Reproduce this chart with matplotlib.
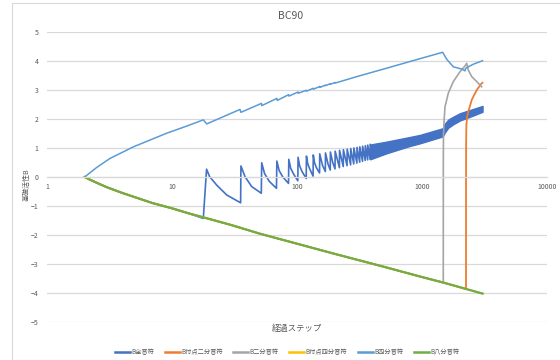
import matplotlib
matplotlib.use("Agg")
import matplotlib.pyplot as plt
from matplotlib.patches import Rectangle
from matplotlib.ticker import FixedLocator, FixedFormatter

plt.rcParams['font.family'] = ['Noto Sans CJK JP', 'DejaVu Sans']

# --- data -------------------------------------------------------------
series_names = ["B全音符", "B付点二分音符", "B二分音符", "B付点四分音符", "B四分音符", "B八分音符"]
series_colors = ["#4472C4", "#ED7D31", "#A5A5A5", "#FFC000", "#5B9BD5", "#70AD47"]

x_ticks = [1, 10, 100, 1000, 10000]
x_tick_labels = ["1", "10", "100", "1000", "10000"]
y_ticks = [-5, -4, -3, -2, -1, 0, 1, 2, 3, 4, 5]

# single presentation, plain decay (八分音符 / 付点四分音符)
decay_t = [2, 2.2, 2.5, 3, 4, 5, 7, 10, 14, 20, 30, 50, 100, 200, 500, 1000, 1480, 2249, 3050]
decay_b = [0, -0.09, -0.2, -0.35, -0.55, -0.69, -0.9, -1.08, -1.27, -1.45, -1.66,
           -1.95, -2.3, -2.65, -3.1, -3.45, -3.64, -3.86, -4.02]

# 全音符: early decay, then visible sawtooth teeth
whole_t = [2, 2.5, 3, 4, 5, 7, 10, 14, 17.8,
           18.9, 20, 22.8, 27.4, 35.4,
           35.6, 38.4, 43.4, 51.8,
           52.2, 55, 60, 68.5,
           69, 72, 77, 85.5,
           86, 89, 94, 101.5,
           102, 105, 110, 118.5,
           119, 122, 127, 134.5,
           135, 138, 143, 151.5,
           152, 160, 168.5,
           169, 177, 184.5,
           185, 193, 201.5,
           202, 218.5, 219, 234.5, 235, 251.5, 252, 268.5, 269, 284.5,
           285, 301.5, 302, 317.5, 318, 334.5, 335, 351.5, 352, 367.5, 368, 384.5, 385]
whole_b = [0, -0.2, -0.35, -0.55, -0.69, -0.9, -1.08, -1.27, -1.43,
           0.27, 0.01, -0.28, -0.62, -0.89,
           0.38, 0.01, -0.33, -0.56,
           0.49, 0.12, -0.15, -0.39,
           0.55, 0.22, 0.0, -0.22,
           0.61, 0.3, 0.1, -0.13,
           0.68, 0.38, 0.18, -0.05,
           0.72, 0.45, 0.26, 0.03,
           0.76, 0.5, 0.32, 0.14,
           0.8, 0.4, 0.19,
           0.83, 0.45, 0.24,
           0.86, 0.5, 0.28,
           0.89, 0.32, 0.92, 0.36, 0.94, 0.39, 0.96, 0.42, 0.98, 0.45,
           1.0, 0.48, 1.02, 0.51, 1.04, 0.54, 1.06, 0.57, 1.08, 0.59, 1.1, 0.61, 1.12]

# 全音符: dense part of the sawtooth, as its upper and lower envelope
whole_band_t = [385, 522, 800, 960, 1464, 1530, 1623, 1780, 2014, 2500, 3050]
whole_band_hi = [1.12, 1.22, 1.38, 1.45, 1.68, 1.85, 1.98, 2.08, 2.2, 2.33, 2.45]
whole_band_lo = [0.61, 0.82, 1.07, 1.16, 1.40, 1.55, 1.70, 1.82, 1.95, 2.1, 2.25]

# 付点二分音符: rise after the first presentation
dotted_half_t = [2249, 2250, 2255, 2265, 2300, 2345, 2500, 2740, 3003, 3050]
dotted_half_b = [-3.86, 0.0, 1.2, 1.8, 2.1, 2.25, 2.66, 3.0, 3.23, 3.25]

# 二分音符: rise after the first presentation
half_t = [1480, 1481, 1485, 1500, 1528, 1623, 1780, 2014, 2208, 2279, 2345, 2500, 2740, 3003]
half_b = [-3.64, 0.5, 1.4, 1.9, 2.42, 2.89, 3.29, 3.63, 3.83, 3.92, 3.69, 3.46, 3.29, 3.11]

# 四分音符
quarter_t = [2, 2.5, 3.19, 4.91, 9.07, 13, 17.8, 18.95, 35, 35.6, 52, 52.2, 69, 69.5,
             85.8, 86.2, 102, 102.5, 118.5, 119, 135, 135.6, 152, 152.5, 169, 169.5,
             185, 185.5, 202, 202.5, 300, 500, 1000, 1464, 1577, 1780, 2087,
             2208, 2230, 2345, 2577, 3050]
quarter_b = [0, 0.33, 0.64, 1.04, 1.51, 1.75, 1.97, 1.83, 2.33, 2.23, 2.54, 2.46, 2.71, 2.64,
             2.84, 2.79, 2.93, 2.89, 2.99, 2.96, 3.06, 3.03, 3.12, 3.09, 3.17, 3.15,
             3.22, 3.20, 3.26, 3.24, 3.46, 3.73, 4.1, 4.30, 4.06, 3.80, 3.72,
             3.66, 3.74, 3.80, 3.89, 4.01]

# --- figure -----------------------------------------------------------
W, H = 560, 360
fig = plt.figure(figsize=(W / 100, H / 100), dpi=100)
fig.patches.append(Rectangle((12 / W, 0), 1.0, 1 - 3 / H, transform=fig.transFigure,
                             fill=False, edgecolor="#D9D9D9", linewidth=0.8))

ax = fig.add_axes([47 / W, 1 - 322 / H, 500 / W, 290 / H])
ax.set_xscale("log")
ax.set_xlim(1, 10000)
ax.set_ylim(-5, 5)

text_color = "#595959"
grid_color = "#D9D9D9"

ax.set_yticks(y_ticks)
ax.yaxis.grid(True, color=grid_color, linewidth=0.9)
ax.set_axisbelow(True)
ax.xaxis.set_major_locator(FixedLocator(x_ticks))
ax.xaxis.set_major_formatter(FixedFormatter(x_tick_labels))
ax.xaxis.set_minor_locator(FixedLocator([]))
ax.tick_params(axis="both", length=0, labelsize=5, labelcolor=text_color)
ax.tick_params(axis="y", pad=6)
ax.tick_params(axis="x", pad=4)
for side in ("left", "right", "top"):
    ax.spines[side].set_visible(False)
ax.spines["bottom"].set_position(("data", 0))
ax.spines["bottom"].set_color(grid_color)
ax.spines["bottom"].set_linewidth(0.9)

c_whole, c_dhalf, c_half, c_dquarter, c_quarter, c_eighth = series_colors

ax.plot(whole_t, whole_b, color=c_whole, lw=1.2, label=series_names[0])
ax.fill_between(whole_band_t, whole_band_lo, whole_band_hi, color=c_whole,
                edgecolor=c_whole, linewidth=1.0)
ax.plot([t for t in decay_t if t <= 2249] + dotted_half_t[1:],
        [b for t, b in zip(decay_t, decay_b) if t <= 2249] + dotted_half_b[1:],
        color=c_dhalf, lw=1.3, label=series_names[1])
ax.plot([t for t in decay_t if t <= 1480] + half_t[1:],
        [b for t, b in zip(decay_t, decay_b) if t <= 1480] + half_b[1:],
        color=c_half, lw=1.2, label=series_names[2])
ax.plot(decay_t, decay_b, color=c_dquarter, lw=1.3, label=series_names[3])
ax.plot(quarter_t, quarter_b, color=c_quarter, lw=1.1, label=series_names[4])
ax.plot(decay_t, decay_b, color=c_eighth, lw=1.6, label=series_names[5])

fig.text(291 / W, 1 - 16 / H, "BC90", ha="center", va="center", fontsize=7.5, color=text_color)
fig.text(297 / W, 1 - 328 / H, "経過ステップ", ha="center", va="center", fontsize=6, color=text_color)
fig.text(27 / W, 1 - 185 / H, "基礎活性B", ha="center", va="center", rotation=90,
         fontsize=5, color=text_color)

handles, labels = ax.get_legend_handles_labels()
leg = fig.legend(handles, labels, loc="center", bbox_to_anchor=(287 / W, 1 - 352 / H),
                 ncol=6, frameon=False, fontsize=4.5, handlelength=2.4, handletextpad=0.2,
                 columnspacing=1.7, labelcolor=text_color)
for line in leg.get_lines():
    line.set_linewidth(1.8)

fig.savefig("out.png", dpi=100)
